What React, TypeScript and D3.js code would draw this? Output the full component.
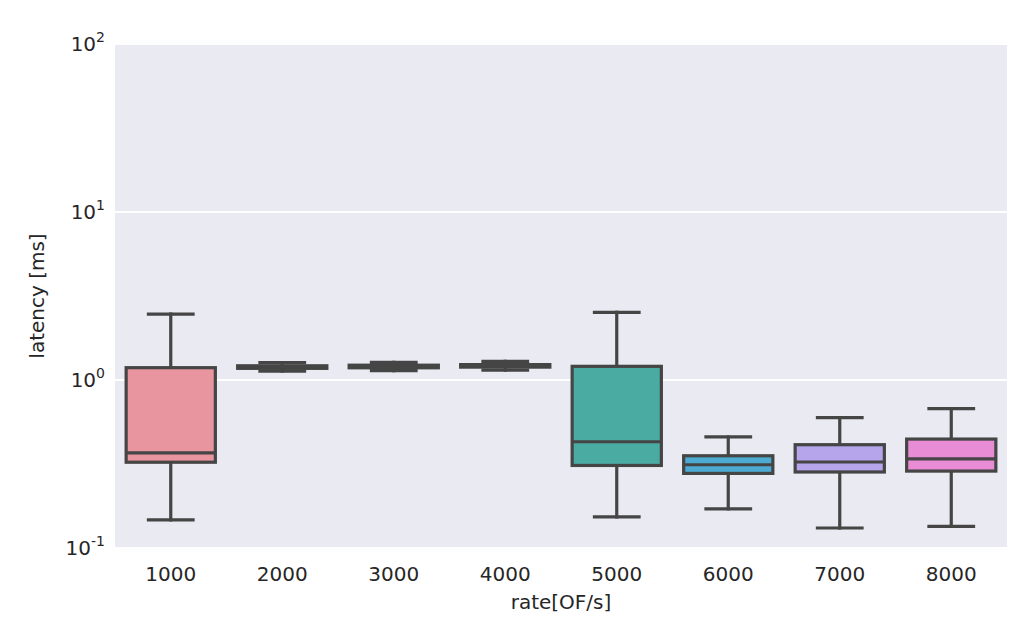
import React from "react";
import * as d3 from "d3";

// Offered load per run (OF/s) and latency summary statistics (ms)
const categories = ["1000", "2000", "3000", "4000", "5000", "6000", "7000", "8000"];
const whiskerLow = [0.147, 1.13, 1.136, 1.145, 0.153, 0.171, 0.1315, 0.1346];
const q1 = [0.324, 1.173, 1.182, 1.193, 0.31, 0.278, 0.2834, 0.287];
const median = [0.368, 1.195, 1.203, 1.215, 0.429, 0.313, 0.325, 0.339];
const q3 = [1.184, 1.215, 1.225, 1.235, 1.206, 0.354, 0.412, 0.445];
const whiskerHigh = [2.47, 1.269, 1.274, 1.292, 2.53, 0.458, 0.5965, 0.675];
const boxColors = ["#e8959f", "#c99f5c", "#a2ab55", "#5cb47f", "#4aaba2", "#4cabd2", "#b6a5ea", "#e88cd6"];
const yTicks = [0.1, 1, 10, 100];
const yTickExponents = ["-1", "0", "1", "2"];

const W = 1035;
const H = 640;
const M = { left: 115, right: 1007, top: 44, bottom: 548 };
const FONT = "'DejaVu Sans', Verdana, sans-serif";
const LINE = "#454545";
const LW = 3.2;

export default function App() {
  const x = d3.scaleBand<string>().domain(categories).range([M.left, M.right]).padding(0);
  const y = d3.scaleLog().domain([0.1, 100]).range([M.bottom, M.top]);
  const bw = x.bandwidth() * 0.8;
  const capW = bw * 0.5;

  return (
    <svg
      width={W}
      height={H}
      style={{ position: "absolute", left: 0, top: 0, display: "block", background: "#ffffff" }}
      fontFamily={FONT}
    >
      <rect x={M.left} y={M.top} width={M.right - M.left} height={M.bottom - M.top} fill="#eaeaf2" />
      {yTicks.map((t) => (
        <line key={t} x1={M.left} x2={M.right} y1={y(t)} y2={y(t)} stroke="#ffffff" strokeWidth={2} />
      ))}

      {categories.map((c, i) => {
        const cx = (x(c) as number) + x.bandwidth() / 2;
        const yTop = y(q3[i]);
        const yBot = y(q1[i]);
        return (
          <g key={c} stroke={LINE} strokeWidth={LW} strokeLinecap="square">
            <line x1={cx} x2={cx} y1={y(whiskerHigh[i])} y2={yTop} />
            <line x1={cx} x2={cx} y1={yBot} y2={y(whiskerLow[i])} />
            <line x1={cx - capW / 2} x2={cx + capW / 2} y1={y(whiskerHigh[i])} y2={y(whiskerHigh[i])} />
            <line x1={cx - capW / 2} x2={cx + capW / 2} y1={y(whiskerLow[i])} y2={y(whiskerLow[i])} />
            <rect
              x={cx - bw / 2}
              y={yTop}
              width={bw}
              height={Math.max(yBot - yTop, 0.01)}
              fill={boxColors[i]}
              strokeLinejoin="miter"
            />
            <line x1={cx - bw / 2} x2={cx + bw / 2} y1={y(median[i])} y2={y(median[i])} strokeLinecap="butt" />
          </g>
        );
      })}

      {categories.map((c) => (
        <text
          key={c}
          x={(x(c) as number) + x.bandwidth() / 2}
          y={M.bottom + 33}
          textAnchor="middle"
          fontSize={20}
          fill="#262626"
        >
          {c}
        </text>
      ))}

      {yTicks.map((t, i) => (
        <text key={t} x={105} y={y(t) + 7} textAnchor="end" fontSize={20} fill="#262626">
          10
          <tspan fontSize={14} dy={-9}>
            {yTickExponents[i]}
          </tspan>
        </text>
      ))}

      <text x={(M.left + M.right) / 2} y={609} textAnchor="middle" fontSize={20} fill="#262626">
        rate[OF/s]
      </text>
      <text
        transform={`translate(44, ${(M.top + M.bottom) / 2}) rotate(-90)`}
        textAnchor="middle"
        fontSize={20}
        fill="#262626"
      >
        latency [ms]
      </text>
    </svg>
  );
}
